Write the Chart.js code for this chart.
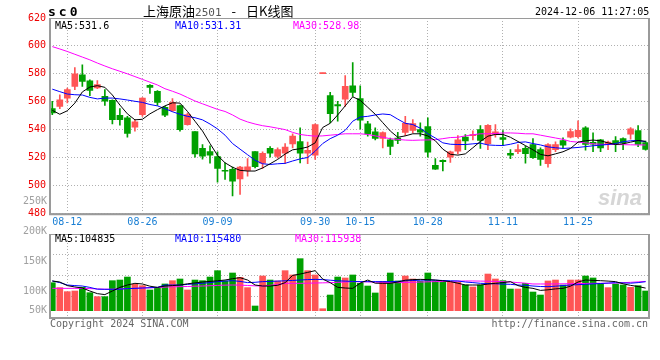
<!DOCTYPE html>
<html>
<head>
<meta charset="utf-8">
<script src="https://cdn.jsdelivr.net/npm/chart.js@4.4.1/dist/chart.umd.min.js"></script>
<style>
  body { margin: 0; background: #fff; }
  #wrap { position: relative; width: 660px; height: 360px; overflow: hidden; font-family: 'DejaVu Sans Mono', monospace; font-size: 10px; }
  canvas { position: absolute; left: 0; top: 0; }
  .t { position: absolute; white-space: nowrap; line-height: 11px; }
</style>
</head>
<body>
<div id="wrap">
  <canvas id="price" width="660" height="360"></canvas>
  <canvas id="vol" width="660" height="360"></canvas>

  <div class="t" style="left:48px; top:5px; font-size:13px; font-weight:bold; letter-spacing:3px; line-height:14px;">sc0</div>
  <div class="t" style="left:143px; top:3px; font-family:'Noto Sans CJK SC'; font-size:13px; line-height:16px;">上海原油<span style="font-family:'DejaVu Sans Mono'; font-size:11px; color:#555;">2501</span><span style="margin:0 10px 0 10px;">-</span>日K线图</div>
  <div class="t" style="left:535px; top:6px;">2024-12-06 11:27:05</div>

  <div class="t" style="left:55px; top:20px; color:#000;">MA5:531.6</div>
  <div class="t" style="left:175px; top:20px; color:#0000ff;">MA10:531.31</div>
  <div class="t" style="left:293px; top:20px; color:#ff00ff;">MA30:528.98</div>

  <div class="t" style="left:55px; top:233px; color:#000;">MA5:104835</div>
  <div class="t" style="left:175px; top:233px; color:#0000ff;">MA10:115480</div>
  <div class="t" style="left:295px; top:233px; color:#ff00ff;">MA30:115938</div>

  <div class="t" style="left:50px; top:318px; color:#666;">Copyright 2024 SINA.COM</div>
  <div class="t" style="right:12px; top:318px; color:#666;">http://finance.sina.com.cn</div>
  <div class="t" style="left:598px; top:186px; font-family:'Liberation Sans'; font-style:italic; font-weight:bold; font-size:22px; line-height:24px; color:#d6d6d6;">sina</div>
</div>

<script>
const dates = [
  '08-08','08-09',
  '08-12','08-13','08-14','08-15','08-16',
  '08-19','08-20','08-21','08-22','08-23',
  '08-26','08-27','08-28','08-29','08-30',
  '09-02','09-03','09-04','09-05','09-06',
  '09-09','09-10','09-11','09-12','09-13',
  '09-18','09-19','09-20',
  '09-23','09-24','09-25','09-26','09-27',
  '09-30','10-08','10-09','10-10','10-11',
  '10-14','10-15','10-16','10-17','10-18',
  '10-21','10-22','10-23','10-24','10-25',
  '10-28','10-29','10-30','10-31','11-01',
  '11-04','11-05','11-06','11-07','11-08',
  '11-11','11-12','11-13','11-14','11-15',
  '11-18','11-19','11-20','11-21','11-22',
  '11-25','11-26','11-27','11-28','11-29',
  '12-02','12-03','12-04','12-05','12-06'
];
const tickDates = ['08-12','08-26','09-09','09-30','10-15','10-28','11-11','11-25'];

const open = [555,556.7,562.6,571,579.3,575,569.8,563.8,561,550.3,
  548.4,541.7,550.7,571.7,567.4,556,553.6,557.2,543.6,538.6,
  526.5,524.3,520.7,510.6,511.5,504.6,510.7,524.3,516,526.5,
  520.7,523.1,529.8,531.5,523.1,521.7,580.5,564.3,557.9,561.9,
  571.4,562.2,544.1,538.4,533.6,532.6,534,537.9,539.5,540,
  542.2,514.3,517.9,520.3,524.6,534.6,535.7,540,530,536.5,
  534.3,523,524.1,526.5,529.3,525.7,515.5,525.7,532.2,534.6,
  535,541.2,530.8,532.6,529.3,532.2,533.6,536.7,539.3,530.7];
const high = [560.3,565,569.8,584.5,586.4,575.7,575.2,568.6,561.4,555,
  549.5,547.2,563,572.2,568,556.7,562.2,557.6,551.9,538.6,
  529.3,528.4,524.1,516.2,513.1,513.6,519.3,524.3,524.1,527.9,
  527,530,536.9,541.2,531,544.1,580.5,566.7,560.3,578.8,
  588.1,571.4,546,541.2,538.4,534,538.1,549.5,547.2,544.8,
  548.4,519.3,518.3,524.6,535.7,536.5,539.2,542.9,543.6,543.6,
  539.3,525.7,529.3,528.1,533.6,526.9,530,531.2,534.1,540.5,
  546.3,542.2,537.7,533,531.7,535,534.1,541.4,542.9,531.7];
const low = [550.7,555,559.1,568.6,571,564.3,569.3,557.4,544,543.1,
  534.5,538.8,549.5,566,557.4,549.3,553.1,538.8,543.1,520.3,
  518.8,516,502.4,504.3,492.4,493.6,506.7,512.6,512.2,520.3,
  519.5,515.8,526.9,516.2,515.5,518.6,580.5,544.8,546,556.7,
  563.8,540.5,535.3,532.6,526.9,522,530,535.7,537.6,535.3,
  520.3,511.5,510.3,516.5,522.6,525.7,532.6,526.5,525.7,534.6,
  528.6,519.2,522.7,516,519.3,514.3,513.1,524.1,526.9,534.1,
  534.1,525.3,524.1,524.1,525.7,524.1,525.7,533.1,527.7,525.3];
const close = [552,561.4,568.6,580,574.5,568.1,572.2,560.3,547.2,547.2,
  537.2,545.5,562.6,570.2,559.5,550.3,559.5,540,550.7,522.6,
  521,521.7,512.2,510.4,503.1,513.1,513.4,513.4,522.9,523.1,
  525.7,527.5,535.3,523.1,525.2,543.6,580.5,551.4,556.9,571,
  566.7,546.7,536.9,533.6,537.9,528,532.2,544.5,544.3,538.1,
  523.8,511.7,517,524.1,532.6,531.8,536.4,532.2,543.1,538.4,
  532.9,521.6,525.7,522.7,519.8,518.6,529.3,529.3,528.8,538.6,
  539.5,529.3,529.6,526.9,531,530.1,530.5,540.5,529.3,525.8];

const ma5 = [553.8,551,553.5,559,567,570.5,571.5,570.3,564.8,557.6,
  551.3,547,547.4,551.3,554.3,557,559.2,559,553,546,
  539,530,521.5,516.2,513,510.8,510.3,510.3,512.5,515.5,
  518.6,522.5,525.5,526.3,527.5,530.5,541.5,544.5,550.5,557,
  563.5,561,556,551,545,539,534.5,535.5,537,537,
  535.5,532,526,522.3,521.7,522.6,527,531.5,535.3,536.5,
  536.5,534.5,531.5,528.5,525.5,522.2,521.2,522.6,524.1,526.5,
  531,532,532.5,532,530.5,529.3,529.8,531,532.2,531.6];
const ma10 = [569,567.2,565.5,565,564.8,563.1,562,562.6,562.6,562,
  561.2,560.3,559.5,558,557,555,552.8,551,549.5,548.5,
  547,544,540.5,536,530,526,522,518,515.5,515,
  515.5,515.8,517.5,519,520,524.5,530,533.5,536,539.5,
  546,549,549.5,550.5,551.2,550.7,547.5,544.5,543.6,541,
  537,534,530.5,529.5,529.3,529.3,529.8,530.3,529,528.7,
  528.6,529.5,530.8,531.2,530,529,527.6,527,526.5,526.8,
  527.2,527.8,528.4,528.9,529.3,530,531.3,532,532.2,531.31];
const ma30 = [599.5,597.8,596,594,592,590,587.7,585.6,583.6,581.8,
  580,578,576,574,572,569.3,567.5,565.5,563,560.5,
  558.5,556.5,554.5,553,550.5,547.5,545.5,544,542.8,542,
  541,540,538,536.5,535.8,535.3,535.5,536,536.5,537,
  537,537,536.5,535.5,534.5,533.5,533,532.5,532.3,532.5,
  532.6,532.8,533.5,534.3,534.5,535.5,536.3,537,537,537.2,
  537.6,537.6,537.4,537,537,536,535,534,533,531.5,
  531,530.5,529.8,529.5,529.4,529.3,529.2,529.1,529,528.98];

const volume = [113800,105600,98900,100000,106100,97200,90600,90600,117200,118300,
  123300,111100,108900,101700,104400,111700,117200,120000,101700,118300,
  117200,123300,133900,116700,130000,122800,105600,75000,125000,118300,
  116700,133900,126700,153900,133900,126700,70500,93300,123300,121700,
  126700,112800,108300,96700,116100,130000,116700,125000,120000,116100,
  130000,116700,114400,114400,114400,110000,106700,110000,128300,120000,
  117200,103300,103300,112800,98300,93300,116700,118300,110000,118300,
  118300,125000,121700,112800,105600,111700,110000,106100,108900,100000];
const vma5 = [116700,115000,109000,106700,105000,100000,95600,94000,100000,106000,
  110000,112800,111700,108000,106000,108300,109000,110000,112000,113500,
  115000,116000,117000,118300,120500,122200,118300,110000,108300,108300,
  109500,113900,126000,128300,131000,133900,120000,113900,106100,105000,
  104400,113000,118300,113000,112800,112800,115000,118000,119000,119400,
  119000,118300,117000,115600,113000,110000,110000,110000,111500,112800,
  114000,115600,109000,106000,104400,101000,102000,103500,104400,108000,
  115000,118300,117700,117200,116500,115600,112000,109400,107500,104835];
const vma10 = [116700,114000,110000,109000,108300,106000,103000,102800,102800,103000,
  104000,104400,105000,105500,106100,110000,110000,110000,111000,112000,
  112800,114000,115600,116500,117200,116000,114000,114500,115600,116000,
  116500,117000,117600,118300,119000,119400,119000,118000,117000,116500,
  116000,115600,115600,115600,115600,115600,116000,117000,117500,118000,
  118300,118000,117500,117000,116700,115000,114000,112800,112500,112000,
  111500,111100,110000,109500,108300,107500,107200,108000,109000,110000,
  110500,111100,111800,112500,113200,113900,113500,113000,114000,115480];
const vma30 = [104400,104400,104400,104400,104200,104000,103500,103000,103000,103500,
  104000,104500,105000,105300,105700,106500,107000,107200,107500,108000,
  108300,108800,109300,109800,110000,109800,109200,108600,108300,109500,
  111000,112800,112800,112800,113000,113300,113600,113900,114500,115000,
  115600,115400,115200,114800,114400,113900,113900,114200,114600,115000,
  115300,115600,115800,116000,116400,116700,116700,116500,116300,116000,
  115600,115000,114000,113000,111700,111700,111700,111800,112000,112200,
  112400,112600,112800,112800,113000,113300,113800,114500,115200,115938];

const priceTicks = [480, 500, 520, 540, 560, 580, 600, 620];
const volTicks = [250000, 200000, 150000, 100000, 50000];

// colours
const UP = '#ff5555', DOWN = '#00a000';
const GRID = '#b0b0b0';
const isUp = close.map((c, i) => c >= open[i]);
const candleColors = isUp.map(u => u ? UP : DOWN);
const tickIdx = tickDates.map(d => dates.indexOf(d));

Chart.defaults.font.family = "'DejaVu Sans Mono', monospace";
Chart.defaults.font.size = 10;

// frame round the plot area
const frame = {
  id: 'frame',
  afterDraw(chart) {
    const a = chart.chartArea, ctx = chart.ctx;
    ctx.save();
    ctx.strokeStyle = '#9a9a9a';
    ctx.lineWidth = 1;
    ctx.strokeRect(a.left + 0.5, a.top + 0.5, a.right - a.left - 1, a.bottom - a.top);
    ctx.lineWidth = 2;
    ctx.beginPath();
    ctx.moveTo(a.left, a.top); ctx.lineTo(a.left, a.bottom + 1);
    ctx.lineTo(a.right, a.bottom + 1); ctx.lineTo(a.right, a.top);
    ctx.stroke();
    ctx.restore();
  }
};

const xRange = { min: -0.306, max: 79.45 };
const pts = arr => arr.map((v, i) => ({ x: i, y: v }));
const maLine = (label, arr, color) => ({
  type: 'line', label, data: pts(arr), borderColor: color, borderWidth: 1,
  pointRadius: 0, tension: 0, order: 0
});

const bodies = open.map((o, i) => {
  const c = close[i];
  if (Math.abs(o - c) < 0.6) { const m = (o + c) / 2; return { x: i, y: [m - 0.35, m + 0.35] }; }
  return { x: i, y: [Math.min(o, c), Math.max(o, c)] };
});
const wicks = low.map((l, i) => ({ x: i, y: [l, high[i]] }));

new Chart(document.getElementById('price'), {
  type: 'bar',
  data: {
    datasets: [
      maLine('MA5', ma5, '#000000'),
      maLine('MA10', ma10, '#0000ff'),
      maLine('MA30', ma30, '#ff00ff'),
      { label: 'body', data: bodies, backgroundColor: candleColors, barThickness: 6, grouped: false, order: 1 },
      { label: 'wick', data: wicks, backgroundColor: candleColors, barThickness: 1, grouped: false, order: 2 }
    ]
  },
  options: {
    responsive: false, animation: false, events: [],
    layout: { padding: { left: 0, top: 18, right: 11, bottom: 130 } },
    plugins: { legend: { display: false }, tooltip: { enabled: false } },
    scales: {
      x: {
        type: 'linear', min: xRange.min, max: xRange.max, offset: false,
        afterBuildTicks: s => { s.ticks = tickIdx.map(v => ({ value: v })); },
        afterFit: s => { s.height = 16.7; },
        ticks: { color: '#1a7fd4', padding: 3, maxRotation: 0, autoSkip: false, callback: v => dates[v] },
        grid: { color: GRID, drawTicks: false, offset: false },
        border: { display: false, dash: [1, 2] }
      },
      y: {
        min: 480, max: 620,
        afterBuildTicks: s => { s.ticks = priceTicks.map(v => ({ value: v })); },
        afterFit: s => { s.width = 50; },
        ticks: { color: '#ee0000', padding: 4 },
        grid: { color: GRID, drawTicks: false },
        border: { display: false, dash: [1, 2] }
      }
    }
  },
  plugins: [frame]
});

// volume axis labels sit at their values, the lowest one is held inside the panel
const volLabels = {
  id: 'volLabels',
  afterDraw(chart) {
    const s = chart.scales.y, ctx = chart.ctx;
    ctx.save();
    ctx.fillStyle = '#a0a0a0';
    ctx.font = "10px 'DejaVu Sans Mono'";
    ctx.textAlign = 'right';
    ctx.textBaseline = 'middle';
    volTicks.forEach(v => {
      const y = Math.min(s.getPixelForValue(v), 310.7);
      ctx.fillText((v / 1000) + 'K', 47, y);
    });
    ctx.restore();
  }
};

new Chart(document.getElementById('vol'), {
  type: 'bar',
  data: {
    datasets: [
      maLine('MA5', vma5, '#000000'),
      maLine('MA10', vma10, '#0000ff'),
      maLine('MA30', vma30, '#ff00ff'),
      { label: 'vol', data: pts(volume), backgroundColor: candleColors, barThickness: 6, grouped: false, base: 67200, order: 1 }
    ]
  },
  options: {
    responsive: false, animation: false, events: [],
    layout: { padding: { left: 0, top: 234, right: 11, bottom: 43 } },
    plugins: { legend: { display: false }, tooltip: { enabled: false } },
    scales: {
      x: {
        type: 'linear', min: xRange.min, max: xRange.max, offset: false,
        afterBuildTicks: s => { s.ticks = tickIdx.map(v => ({ value: v })); },
        afterFit: s => { s.height = 0; },
        ticks: { display: false },
        grid: { color: GRID, drawTicks: false, offset: false },
        border: { display: false, dash: [1, 2] }
      },
      y: {
        min: 56667, max: 195000,
        afterFit: s => { s.width = 50; },
        ticks: { display: false, count: 5 },
        grid: { color: GRID, drawTicks: false },
        border: { display: false, dash: [1, 2] }
      }
    }
  },
  plugins: [frame, volLabels]
});
</script>
</body>
</html>
